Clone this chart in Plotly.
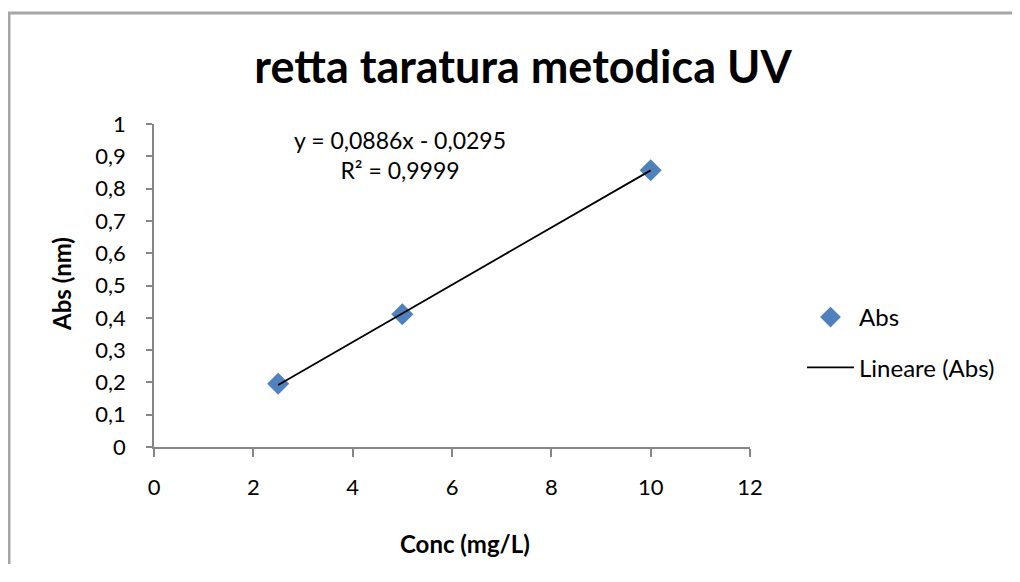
import plotly.graph_objects as go

# Data
conc = [2.5, 5, 10]
absorb = [0.196, 0.411, 0.857]
slope = 0.0886
intercept = -0.0295
eq_text = "y = 0,0886x - 0,0295<br>R² = 0,9999"
x_ticks = [0, 2, 4, 6, 8, 10, 12]
x_tick_labels = ["0", "2", "4", "6", "8", "10", "12"]
y_ticks = [0, 0.1, 0.2, 0.3, 0.4, 0.5, 0.6, 0.7, 0.8, 0.9, 1]
y_tick_labels = ["0", "0,1", "0,2", "0,3", "0,4", "0,5", "0,6", "0,7", "0,8", "0,9", "1"]

FONT = "Lato, Calibri, Open Sans, sans-serif"
AX = "#868686"

trend_x = [min(conc), max(conc)]
trend_y = [slope * v + intercept for v in trend_x]

# page offset of plotly div (body margin); keep figure inside viewport (no scrollbar)
OFF = 8
W, H = 1020 - 2 * OFF, 582 - 2 * OFF - 10
L, R_, T, B = 154 - OFF, 750 - OFF, 124 - OFF, 447 - OFF


def px(xp):
    return (xp - OFF - L) / (R_ - L)


def py(yp):
    return (B - (yp - OFF)) / (B - T)


fig = go.Figure()
fig.add_trace(go.Scatter(
    x=conc, y=absorb, mode="markers", name="Abs", legendgroup="a",
    marker=dict(symbol="diamond", size=17, color="#4F81BD"),
))
fig.add_trace(go.Scatter(
    x=trend_x, y=trend_y, mode="lines", name="Lineare (Abs)", legendgroup="b",
    line=dict(color="black", width=1.8),
))

fig.update_layout(
    width=W, height=H, autosize=False,
    margin=dict(l=L, r=W - R_, t=T, b=H - B),
    paper_bgcolor="white", plot_bgcolor="white",
    font=dict(family=FONT, color="black", size=22),
    title=dict(text="<b>retta taratura metodica UV</b>", x=(523 - OFF) / W, xanchor="center",
               y=1 - (67 - OFF) / H, yanchor="middle", font=dict(size=45, family=FONT)),
    xaxis=dict(range=[0, 12], tickvals=x_ticks, ticktext=x_tick_labels,
               showgrid=False, zeroline=False, showline=True, linecolor=AX, linewidth=1.5,
               ticks="outside", tickcolor=AX, ticklen=8, tickwidth=1.5,
               ticklabelstandoff=12, tickfont=dict(size=22)),
    yaxis=dict(range=[0, 1], tickvals=y_ticks, ticktext=y_tick_labels,
               showgrid=False, zeroline=False, showline=True, linecolor=AX, linewidth=1.5,
               ticks="outside", tickcolor=AX, ticklen=6, tickwidth=1.5,
               ticklabelstandoff=16, tickfont=dict(size=22)),
    legend=dict(x=px(802), y=py(342.5), xanchor="left", yanchor="middle",
                font=dict(size=24), bgcolor="rgba(0,0,0,0)", tracegroupgap=16,
                itemwidth=47),
    showlegend=True,
    shapes=[
        dict(type="rect", xref="paper", yref="paper",
             x0=px(9), x1=px(1060), y0=py(13), y1=py(640),
             line=dict(color="#A6A6A6", width=3), fillcolor="rgba(0,0,0,0)", layer="below"),
    ],
    annotations=[
        dict(text=eq_text, xref="paper", yref="paper", x=px(400), y=py(155),
             xanchor="center", yanchor="middle",
             showarrow=False, font=dict(size=23), align="center"),
        dict(text="<b>Abs (nm)</b>", xref="paper", yref="paper", x=px(61), y=py(284),
             xanchor="center", yanchor="middle", textangle=-90,
             showarrow=False, font=dict(size=24)),
        dict(text="<b>Conc (mg/L)</b>", xref="paper", yref="paper", x=px(465), y=py(543),
             xanchor="center", yanchor="middle",
             showarrow=False, font=dict(size=24)),
    ],
)

fig.write_html("out.html")
